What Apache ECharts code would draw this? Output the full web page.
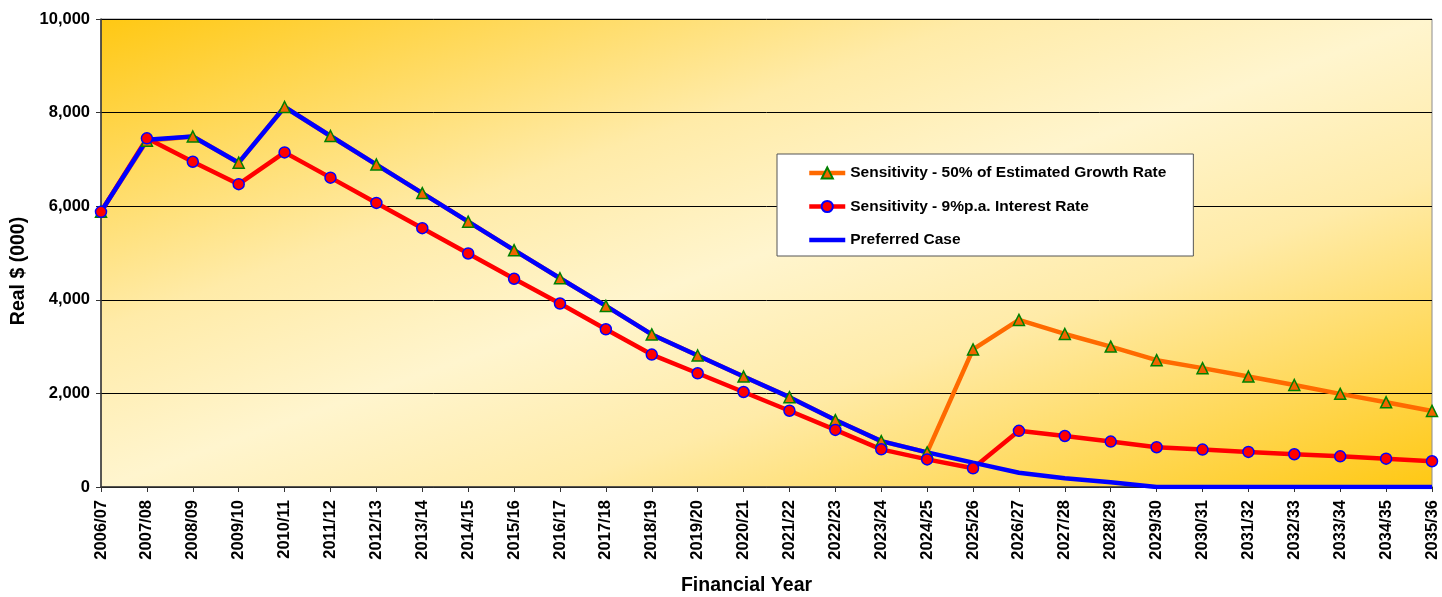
<!DOCTYPE html>
<html>
<head>
<meta charset="utf-8">
<title>Real $ (000) by Financial Year</title>
<script src="https://cdn.jsdelivr.net/npm/echarts@6/dist/echarts.min.js"></script>
<style>
  html, body { margin: 0; padding: 0; background: #ffffff; }
  #chart { width: 1442px; height: 597px; }
</style>
</head>
<body>
<div id="chart"></div>
<script>
// Financial years on the horizontal axis
const years = [
  '2006/07','2007/08','2008/09','2009/10','2010/11','2011/12','2012/13','2013/14',
  '2014/15','2015/16','2016/17','2017/18','2018/19','2019/20','2020/21','2021/22',
  '2022/23','2023/24','2024/25','2025/26','2026/27','2027/28','2028/29','2029/30',
  '2030/31','2031/32','2032/33','2033/34','2034/35','2035/36'
];

// Real $ (000) per scenario
const growthSensitivity = [
  5880, 7400, 7490, 6930, 8120, 7500, 6890, 6280, 5670, 5060, 4460, 3870, 3260, 2810, 2360,
  1920, 1430, 980, 740, 2940, 3570, 3270, 3000, 2710, 2540, 2360, 2180, 1990, 1810, 1625
];
const interestSensitivity = [
  5880, 7450, 6950, 6470, 7150, 6610, 6070, 5530, 4990, 4450, 3920, 3370, 2830, 2430, 2030,
  1630, 1220, 805, 590, 400, 1200, 1090, 970, 850, 800, 750, 700, 655, 605, 550
];
const preferredCase = [
  5880, 7420, 7490, 6930, 8120, 7500, 6890, 6280, 5670, 5060, 4460, 3870, 3260, 2810, 2360,
  1920, 1430, 980, 740, 520, 305, 185, 100, 0, 0, 0, 0, 0, 0, 0
];

const seriesNames = [
  'Sensitivity - 50% of Estimated Growth Rate',
  'Sensitivity - 9%p.a. Interest Rate',
  'Preferred Case'
];

const yTicks = { min: 0, max: 10000, interval: 2000 };

const FONT = '"Liberation Sans", Arial, sans-serif';

// Plot rectangle in pixels
const W = 1442, H = 597;
const plot = { left: 101, right: 10, top: 19, bottom: 110 };
const pw = W - plot.left - plot.right;
const ph = H - plot.top - plot.bottom;

// Diagonal fill: gold corners top-left / bottom-right, pale band along the other diagonal
const k = (2 * pw * ph) / (pw * pw + ph * ph);
const plotFill = new echarts.graphic.LinearGradient(
  plot.left, plot.top,
  plot.left + ph * k, plot.top + pw * k,
  [
    { offset: 0, color: '#FFC813' },
    { offset: 0.33, color: '#FFEBA8' },
    { offset: 0.5, color: '#FFF5CE' },
    { offset: 0.67, color: '#FFEBA8' },
    { offset: 1, color: '#FFC813' }
  ],
  true
);

const chart = echarts.init(document.getElementById('chart'), null, { renderer: 'canvas' });

const option = {
  animation: false,
  backgroundColor: '#ffffff',
  textStyle: { fontFamily: FONT },
  grid: {
    left: plot.left, right: plot.right, top: plot.top, bottom: plot.bottom,
    outerBoundsMode: 'none',
    containLabel: false,
    show: true,
    borderColor: '#8c8c8c',
    borderWidth: 1,
    backgroundColor: plotFill
  },
  legend: {
    orient: 'vertical',
    left: 777, top: 154,
    backgroundColor: '#ffffff',
    borderColor: '#555555',
    borderWidth: 1,
    padding: [11, 27, 8, 30],
    itemGap: 17.5,
    itemWidth: 36,
    itemHeight: 14,
    lineStyle: { width: 4.5 },
    textStyle: { fontFamily: FONT, fontSize: 15.5, fontWeight: 'bold', color: '#000' },
    data: [
      { name: seriesNames[0] },
      { name: seriesNames[1] },
      { name: seriesNames[2], itemStyle: { opacity: 0 } }
    ]
  },
  xAxis: {
    type: 'category',
    data: years,
    boundaryGap: false,
    name: 'Financial Year',
    nameLocation: 'middle',
    nameGap: 89,
    nameTextStyle: {
      fontFamily: FONT, fontSize: 19.5, fontWeight: 'bold', color: '#000',
      padding: [0, 40, 0, 0]
    },
    axisLine: { lineStyle: { color: '#333333', width: 1.5 } },
    axisTick: { alignWithLabel: true, length: 5, lineStyle: { color: '#333333' } },
    axisLabel: {
      rotate: 90, margin: 13, interval: 0,
      fontFamily: FONT, fontSize: 16.5, fontWeight: 'bold', color: '#000'
    },
    splitLine: { show: false }
  },
  yAxis: {
    type: 'value',
    min: yTicks.min, max: yTicks.max, interval: yTicks.interval,
    name: 'Real $ (000)',
    nameLocation: 'middle',
    nameGap: 68,
    nameRotate: 90,
    nameTextStyle: {
      fontFamily: FONT, fontSize: 19.5, fontWeight: 'bold', color: '#000',
      padding: [0, 36, 0, 0]
    },
    axisLine: { show: true, lineStyle: { color: '#333333', width: 1.5 } },
    axisTick: { show: true, length: 5, lineStyle: { color: '#333333' } },
    axisLabel: {
      margin: 11,
      fontFamily: FONT, fontSize: 16.5, fontWeight: 'bold', color: '#000',
      formatter: v => v.toLocaleString('en-US')
    },
    splitLine: { lineStyle: { color: '#000000', width: 1 } }
  },
  series: [
    {
      name: seriesNames[0],
      type: 'line',
      data: growthSensitivity,
      symbol: 'triangle',
      symbolSize: 11,
      lineStyle: { color: '#FF6A00', width: 4.5 },
      itemStyle: { color: '#F06400', borderColor: '#008000', borderWidth: 1.5 },
      color: '#FF6A00'
    },
    {
      name: seriesNames[1],
      type: 'line',
      data: interestSensitivity,
      symbol: 'circle',
      symbolSize: 11,
      lineStyle: { color: '#FF0000', width: 4.5 },
      itemStyle: { color: '#FF0000', borderColor: '#0000FF', borderWidth: 1.5 },
      color: '#FF0000'
    },
    {
      name: seriesNames[2],
      type: 'line',
      data: preferredCase,
      symbol: 'none',
      lineStyle: { color: '#0000FF', width: 4.5 },
      itemStyle: { color: '#0000FF' },
      color: '#0000FF'
    }
  ]
};

chart.setOption(option);
</script>
</body>
</html>
